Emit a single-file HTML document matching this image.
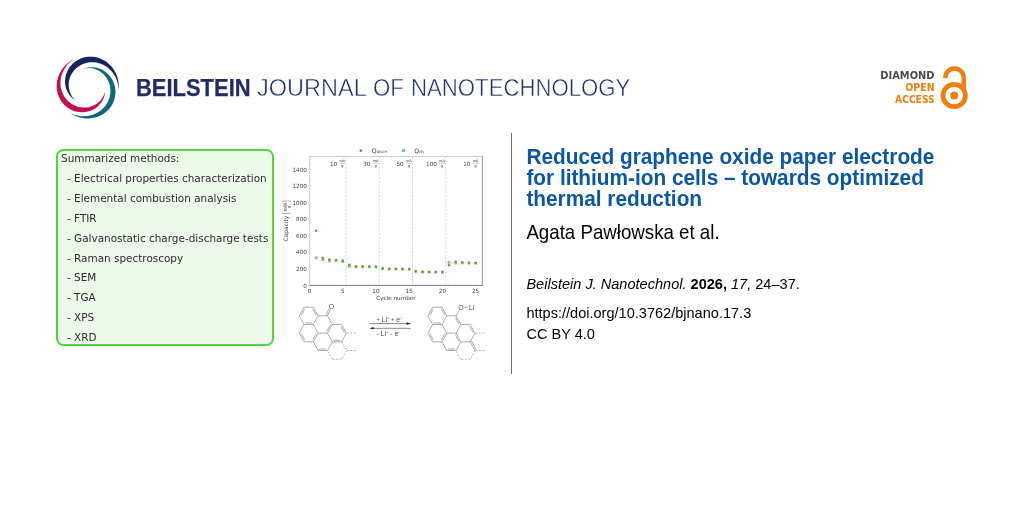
<!DOCTYPE html>
<html lang="en"><head><meta charset="utf-8"><title>Beilstein Journal of Nanotechnology</title>
<style>
html,body{margin:0;padding:0;background:#fff;}
body{width:1024px;height:512px;position:relative;overflow:hidden;font-family:"Liberation Sans",sans-serif;color:#000;}
.abs{position:absolute;white-space:nowrap;}
.hd{font-size:24.3px;line-height:30px;color:#1f2c66;transform-origin:0 50%;}
#h1{left:135.7px;top:72.6px;font-weight:700;transform:scaleX(0.903);-webkit-text-stroke:0.25px #1f2c66;}
.h2{top:72.6px;-webkit-text-stroke:0.5px #fff;}
.oa{font-family:"DejaVu Sans","Liberation Sans",sans-serif;font-weight:700;font-size:9.9px;line-height:12px;text-align:right;right:89.5px;transform-origin:100% 50%;}
#box{left:56.2px;top:149.2px;width:213.6px;height:193px;border:2px solid #56d53c;border-radius:7.5px;background:#ecfaea;}
.m{font-family:"DejaVu Sans","Liberation Sans",sans-serif;font-size:10.45px;line-height:14px;color:#2c2c2c;}
#vline{left:511px;top:133px;width:1px;height:241px;background:#6e6e6e;}
#title{left:526.4px;top:145.8px;font-size:20.81px;line-height:19.81px;font-weight:700;color:#0a57a5;transform:scaleY(1.055);transform-origin:0 0;white-space:normal;width:470px;}
#auth{left:526.4px;top:222px;font-size:18.71px;line-height:20px;transform:scaleY(1.055);transform-origin:0 0;}
.c{font-size:14.56px;line-height:16px;left:526.4px;transform:scaleY(1.055);transform-origin:0 0;}
svg text{font-family:"DejaVu Sans","Liberation Sans",sans-serif;fill:#404040;stroke:none;}
svg .tk{font-size:5.7px;}
svg .fr{font-size:3.5px;fill:#333;}
svg .at{font-family:"Liberation Sans",sans-serif;font-size:6.9px;fill:#4a4a4a;}
svg .rx{font-family:"Liberation Sans",sans-serif;font-size:6.9px;fill:#4a4a4a;}
</style></head><body>
<svg class="abs" style="left:0;top:0" width="1024" height="512" viewBox="0 0 1024 512">
<g id="logo">
<path d="M75.40,100.40 L73.52,99.12 L71.76,97.62 L70.16,95.92 L68.75,94.04 L67.55,92.00 L66.56,89.82 L65.81,87.53 L65.30,85.17 L65.04,82.76 L65.02,80.33 L65.26,77.91 L65.75,75.52 L66.47,73.19 L67.42,70.95 L68.58,68.81 L69.95,66.80 L71.50,64.94 L73.22,63.24 L75.08,61.72 L77.07,60.39 L79.17,59.25 L81.35,58.32 L83.60,57.59 L85.90,57.08 L88.22,56.77 L90.55,56.68 L92.86,56.78 L95.15,57.09 L97.40,57.59 L99.58,58.28 L101.70,59.14 L103.73,60.18 L105.67,61.37 L107.50,62.72 L109.22,64.21 L110.83,65.84 L112.30,67.59 L113.64,69.46 L114.84,71.44 L115.90,73.52 L116.80,75.69 L117.55,77.95 L118.14,80.29 L118.56,82.70 L118.80,85.18 L118.86,87.71 L118.75,90.30 L118.58,88.05 L118.30,85.87 L117.88,83.75 L117.32,81.70 L116.63,79.72 L115.81,77.82 L114.88,76.00 L113.83,74.27 L112.67,72.63 L111.40,71.09 L110.03,69.65 L108.57,68.32 L107.02,67.10 L105.38,66.01 L103.67,65.04 L101.89,64.20 L100.04,63.50 L98.14,62.95 L96.20,62.55 L94.23,62.30 L92.24,62.21 L90.24,62.29 L88.24,62.53 L86.26,62.94 L84.32,63.52 L82.42,64.26 L80.58,65.17 L78.83,66.24 L77.17,67.47 L75.61,68.84 L74.19,70.35 L72.90,71.99 L71.76,73.75 L70.78,75.61 L69.98,77.55 L69.37,79.56 L68.95,81.62 L68.72,83.71 L68.70,85.81 L68.88,87.89 L69.26,89.95 L69.84,91.94 L70.62,93.87 L71.57,95.69 L72.71,97.39 L74.00,98.96Z" fill="#16235f"/>
<path d="M82.00,69.25 L84.10,68.40 L86.30,67.75 L88.57,67.32 L90.89,67.14 L93.23,67.20 L95.56,67.50 L97.86,68.04 L100.10,68.81 L102.26,69.80 L104.31,71.01 L106.23,72.41 L108.01,73.99 L109.63,75.74 L111.06,77.63 L112.31,79.64 L113.36,81.76 L114.21,83.97 L114.84,86.23 L115.25,88.54 L115.46,90.87 L115.45,93.20 L115.23,95.50 L114.80,97.77 L114.18,99.99 L113.37,102.13 L112.38,104.18 L111.21,106.14 L109.89,107.98 L108.43,109.69 L106.82,111.28 L105.10,112.72 L103.26,114.01 L101.33,115.14 L99.31,116.12 L97.22,116.93 L95.06,117.58 L92.85,118.05 L90.61,118.36 L88.33,118.49 L86.04,118.44 L83.73,118.22 L81.43,117.82 L79.14,117.23 L76.87,116.47 L74.64,115.53 L72.44,114.40 L70.30,113.10 L72.34,113.98 L74.40,114.70 L76.46,115.28 L78.54,115.71 L80.60,115.99 L82.66,116.13 L84.71,116.12 L86.73,115.98 L88.72,115.70 L90.68,115.28 L92.60,114.72 L94.46,114.03 L96.27,113.21 L98.01,112.25 L99.67,111.17 L101.25,109.97 L102.74,108.64 L104.12,107.21 L105.39,105.66 L106.53,104.01 L107.55,102.28 L108.42,100.45 L109.14,98.56 L109.71,96.60 L110.11,94.59 L110.34,92.55 L110.40,90.49 L110.27,88.43 L109.97,86.37 L109.49,84.35 L108.82,82.37 L107.98,80.45 L106.97,78.62 L105.79,76.88 L104.46,75.26 L102.98,73.77 L101.38,72.43 L99.65,71.25 L97.82,70.24 L95.91,69.41 L93.94,68.78 L91.93,68.34 L89.89,68.12 L87.86,68.10 L85.85,68.28 L83.89,68.67Z" fill="#0d6a79"/>
<path d="M105.10,91.00 L104.93,93.20 L104.52,95.40 L103.87,97.57 L102.97,99.66 L101.84,101.67 L100.49,103.56 L98.95,105.31 L97.22,106.89 L95.33,108.30 L93.30,109.50 L91.15,110.50 L88.91,111.28 L86.61,111.84 L84.26,112.16 L81.89,112.26 L79.53,112.12 L77.20,111.77 L74.91,111.19 L72.70,110.40 L70.58,109.42 L68.57,108.24 L66.68,106.90 L64.92,105.39 L63.32,103.74 L61.87,101.96 L60.59,100.07 L59.49,98.08 L58.56,96.02 L57.82,93.89 L57.26,91.71 L56.88,89.50 L56.69,87.27 L56.68,85.03 L56.85,82.80 L57.19,80.59 L57.71,78.41 L58.40,76.27 L59.25,74.18 L60.26,72.15 L61.44,70.19 L62.77,68.31 L64.25,66.51 L65.87,64.81 L67.65,63.20 L69.56,61.72 L71.61,60.35 L73.80,59.10 L72.01,60.41 L70.34,61.80 L68.79,63.26 L67.37,64.81 L66.07,66.44 L64.91,68.13 L63.87,69.88 L62.97,71.68 L62.20,73.52 L61.57,75.41 L61.08,77.33 L60.73,79.27 L60.52,81.23 L60.46,83.19 L60.55,85.16 L60.79,87.11 L61.17,89.04 L61.71,90.94 L62.40,92.80 L63.23,94.60 L64.21,96.33 L65.33,97.98 L66.59,99.54 L67.97,101.00 L69.48,102.34 L71.11,103.55 L72.83,104.62 L74.65,105.54 L76.55,106.30 L78.52,106.90 L80.53,107.32 L82.58,107.55 L84.65,107.60 L86.71,107.46 L88.75,107.13 L90.76,106.62 L92.70,105.92 L94.57,105.04 L96.34,103.98 L97.99,102.77 L99.51,101.41 L100.89,99.91 L102.10,98.29 L103.13,96.57 L103.98,94.76 L104.63,92.90Z" fill="#c30f4f"/>
</g>
<g id="lock" fill="none" stroke="#f07e0c">
<circle cx="954.2" cy="95.5" r="11.2" stroke-width="4.8"/>
<circle cx="954.2" cy="95.5" r="4" fill="#f07e0c" stroke="none"/>
<path d="M945.4,78.3 V77.6 A9.15,9.15 0 0 1 963.7,77.6 V88" stroke-width="4.5"/>
</g>
</svg>
<div id="h1" class="abs hd">BEILSTEIN</div><div class="abs hd h2" style="left:257.3px;transform:scaleX(0.968)">JOURNAL</div><div class="abs hd h2" style="left:372.9px;transform:scaleX(0.914)">OF</div><div class="abs hd h2" style="left:410.5px;transform:scaleX(0.913)">NANOTECHNOLOGY</div>
<div class="abs oa" style="top:69.9px;color:#4a4a4a;">DIAMOND</div>
<div class="abs oa" style="top:81.7px;color:#f07e0c;transform:scaleX(0.96)">OPEN</div>
<div class="abs oa" style="top:94.1px;color:#f07e0c;transform:scaleX(0.928)">ACCESS</div>

<div id="box" class="abs"></div>
<div class="abs m" style="left:61.1px;top:150.5px;">Summarized methods:</div>
<div class="abs m" style="left:67px;top:171.3px;">- Electrical properties characterization</div>
<div class="abs m" style="left:67px;top:191.1px;">- Elemental combustion analysis</div>
<div class="abs m" style="left:67px;top:210.9px;">- FTIR</div>
<div class="abs m" style="left:67px;top:230.7px;">- Galvanostatic charge-discharge tests</div>
<div class="abs m" style="left:67px;top:250.5px;">- Raman spectroscopy</div>
<div class="abs m" style="left:67px;top:270.3px;">- SEM</div>
<div class="abs m" style="left:67px;top:290.1px;">- TGA</div>
<div class="abs m" style="left:67px;top:309.9px;">- XPS</div>
<div class="abs m" style="left:67px;top:329.7px;">- XRD</div>

<svg class="abs" style="left:0;top:0" width="1024" height="512" viewBox="0 0 1024 512">
<g id="chart">
<rect x="309.80" y="156.40" width="172.60" height="129.00" fill="#fff" stroke="#c2c2c2" stroke-width="0.85"/>
<line x1="309.20" y1="285.40" x2="482.70" y2="285.40" stroke="#606060" stroke-width="0.7"/>
<line x1="482.40" y1="156.10" x2="482.40" y2="285.70" stroke="#8a8a8a" stroke-width="0.7"/>
<line x1="346.05" y1="156.4" x2="346.05" y2="285.4" stroke="#bcbcbc" stroke-width="0.65" stroke-dasharray="2,1.5"/>
<line x1="379.27" y1="156.4" x2="379.27" y2="285.4" stroke="#bcbcbc" stroke-width="0.65" stroke-dasharray="2,1.5"/>
<line x1="412.50" y1="156.4" x2="412.50" y2="285.4" stroke="#bcbcbc" stroke-width="0.65" stroke-dasharray="2,1.5"/>
<line x1="445.72" y1="156.4" x2="445.72" y2="285.4" stroke="#bcbcbc" stroke-width="0.65" stroke-dasharray="2,1.5"/>
<line x1="308.00" y1="285.40" x2="309.50" y2="285.40" stroke="#bdbdbd" stroke-width="0.6"/>
<text x="306.90" y="287.50" text-anchor="end" class="tk">0</text>
<line x1="308.00" y1="268.85" x2="309.50" y2="268.85" stroke="#bdbdbd" stroke-width="0.6"/>
<text x="306.90" y="270.95" text-anchor="end" class="tk">200</text>
<line x1="308.00" y1="252.30" x2="309.50" y2="252.30" stroke="#bdbdbd" stroke-width="0.6"/>
<text x="306.90" y="254.40" text-anchor="end" class="tk">400</text>
<line x1="308.00" y1="235.75" x2="309.50" y2="235.75" stroke="#bdbdbd" stroke-width="0.6"/>
<text x="306.90" y="237.85" text-anchor="end" class="tk">600</text>
<line x1="308.00" y1="219.20" x2="309.50" y2="219.20" stroke="#bdbdbd" stroke-width="0.6"/>
<text x="306.90" y="221.30" text-anchor="end" class="tk">800</text>
<line x1="308.00" y1="202.65" x2="309.50" y2="202.65" stroke="#bdbdbd" stroke-width="0.6"/>
<text x="306.90" y="204.75" text-anchor="end" class="tk">1000</text>
<line x1="308.00" y1="186.10" x2="309.50" y2="186.10" stroke="#bdbdbd" stroke-width="0.6"/>
<text x="306.90" y="188.20" text-anchor="end" class="tk">1200</text>
<line x1="308.00" y1="169.55" x2="309.50" y2="169.55" stroke="#bdbdbd" stroke-width="0.6"/>
<text x="306.90" y="171.65" text-anchor="end" class="tk">1400</text>
<line x1="308.60" y1="285.40" x2="309.50" y2="285.40" stroke="#bdbdbd" stroke-width="0.4"/>
<line x1="308.60" y1="281.26" x2="309.50" y2="281.26" stroke="#bdbdbd" stroke-width="0.4"/>
<line x1="308.60" y1="277.12" x2="309.50" y2="277.12" stroke="#bdbdbd" stroke-width="0.4"/>
<line x1="308.60" y1="272.99" x2="309.50" y2="272.99" stroke="#bdbdbd" stroke-width="0.4"/>
<line x1="308.60" y1="268.85" x2="309.50" y2="268.85" stroke="#bdbdbd" stroke-width="0.4"/>
<line x1="308.60" y1="264.71" x2="309.50" y2="264.71" stroke="#bdbdbd" stroke-width="0.4"/>
<line x1="308.60" y1="260.57" x2="309.50" y2="260.57" stroke="#bdbdbd" stroke-width="0.4"/>
<line x1="308.60" y1="256.44" x2="309.50" y2="256.44" stroke="#bdbdbd" stroke-width="0.4"/>
<line x1="308.60" y1="252.30" x2="309.50" y2="252.30" stroke="#bdbdbd" stroke-width="0.4"/>
<line x1="308.60" y1="248.16" x2="309.50" y2="248.16" stroke="#bdbdbd" stroke-width="0.4"/>
<line x1="308.60" y1="244.02" x2="309.50" y2="244.02" stroke="#bdbdbd" stroke-width="0.4"/>
<line x1="308.60" y1="239.89" x2="309.50" y2="239.89" stroke="#bdbdbd" stroke-width="0.4"/>
<line x1="308.60" y1="235.75" x2="309.50" y2="235.75" stroke="#bdbdbd" stroke-width="0.4"/>
<line x1="308.60" y1="231.61" x2="309.50" y2="231.61" stroke="#bdbdbd" stroke-width="0.4"/>
<line x1="308.60" y1="227.47" x2="309.50" y2="227.47" stroke="#bdbdbd" stroke-width="0.4"/>
<line x1="308.60" y1="223.34" x2="309.50" y2="223.34" stroke="#bdbdbd" stroke-width="0.4"/>
<line x1="308.60" y1="219.20" x2="309.50" y2="219.20" stroke="#bdbdbd" stroke-width="0.4"/>
<line x1="308.60" y1="215.06" x2="309.50" y2="215.06" stroke="#bdbdbd" stroke-width="0.4"/>
<line x1="308.60" y1="210.92" x2="309.50" y2="210.92" stroke="#bdbdbd" stroke-width="0.4"/>
<line x1="308.60" y1="206.79" x2="309.50" y2="206.79" stroke="#bdbdbd" stroke-width="0.4"/>
<line x1="308.60" y1="202.65" x2="309.50" y2="202.65" stroke="#bdbdbd" stroke-width="0.4"/>
<line x1="308.60" y1="198.51" x2="309.50" y2="198.51" stroke="#bdbdbd" stroke-width="0.4"/>
<line x1="308.60" y1="194.37" x2="309.50" y2="194.37" stroke="#bdbdbd" stroke-width="0.4"/>
<line x1="308.60" y1="190.24" x2="309.50" y2="190.24" stroke="#bdbdbd" stroke-width="0.4"/>
<line x1="308.60" y1="186.10" x2="309.50" y2="186.10" stroke="#bdbdbd" stroke-width="0.4"/>
<line x1="308.60" y1="181.96" x2="309.50" y2="181.96" stroke="#bdbdbd" stroke-width="0.4"/>
<line x1="308.60" y1="177.82" x2="309.50" y2="177.82" stroke="#bdbdbd" stroke-width="0.4"/>
<line x1="308.60" y1="173.69" x2="309.50" y2="173.69" stroke="#bdbdbd" stroke-width="0.4"/>
<line x1="308.60" y1="169.55" x2="309.50" y2="169.55" stroke="#bdbdbd" stroke-width="0.4"/>
<line x1="308.60" y1="165.41" x2="309.50" y2="165.41" stroke="#bdbdbd" stroke-width="0.4"/>
<line x1="308.60" y1="161.27" x2="309.50" y2="161.27" stroke="#bdbdbd" stroke-width="0.4"/>
<line x1="316.14" y1="284.9" x2="316.14" y2="286.0" stroke="#666" stroke-width="0.5"/>
<line x1="322.79" y1="284.9" x2="322.79" y2="286.0" stroke="#666" stroke-width="0.5"/>
<line x1="329.44" y1="284.9" x2="329.44" y2="286.0" stroke="#666" stroke-width="0.5"/>
<line x1="336.08" y1="284.9" x2="336.08" y2="286.0" stroke="#666" stroke-width="0.5"/>
<line x1="342.73" y1="284.9" x2="342.73" y2="286.0" stroke="#666" stroke-width="0.5"/>
<line x1="349.37" y1="284.9" x2="349.37" y2="286.0" stroke="#666" stroke-width="0.5"/>
<line x1="356.01" y1="284.9" x2="356.01" y2="286.0" stroke="#666" stroke-width="0.5"/>
<line x1="362.66" y1="284.9" x2="362.66" y2="286.0" stroke="#666" stroke-width="0.5"/>
<line x1="369.31" y1="284.9" x2="369.31" y2="286.0" stroke="#666" stroke-width="0.5"/>
<line x1="375.95" y1="284.9" x2="375.95" y2="286.0" stroke="#666" stroke-width="0.5"/>
<line x1="382.60" y1="284.9" x2="382.60" y2="286.0" stroke="#666" stroke-width="0.5"/>
<line x1="389.24" y1="284.9" x2="389.24" y2="286.0" stroke="#666" stroke-width="0.5"/>
<line x1="395.88" y1="284.9" x2="395.88" y2="286.0" stroke="#666" stroke-width="0.5"/>
<line x1="402.53" y1="284.9" x2="402.53" y2="286.0" stroke="#666" stroke-width="0.5"/>
<line x1="409.18" y1="284.9" x2="409.18" y2="286.0" stroke="#666" stroke-width="0.5"/>
<line x1="415.82" y1="284.9" x2="415.82" y2="286.0" stroke="#666" stroke-width="0.5"/>
<line x1="422.46" y1="284.9" x2="422.46" y2="286.0" stroke="#666" stroke-width="0.5"/>
<line x1="429.11" y1="284.9" x2="429.11" y2="286.0" stroke="#666" stroke-width="0.5"/>
<line x1="435.75" y1="284.9" x2="435.75" y2="286.0" stroke="#666" stroke-width="0.5"/>
<line x1="442.40" y1="284.9" x2="442.40" y2="286.0" stroke="#666" stroke-width="0.5"/>
<line x1="449.04" y1="284.9" x2="449.04" y2="286.0" stroke="#666" stroke-width="0.5"/>
<line x1="455.69" y1="284.9" x2="455.69" y2="286.0" stroke="#666" stroke-width="0.5"/>
<line x1="462.33" y1="284.9" x2="462.33" y2="286.0" stroke="#666" stroke-width="0.5"/>
<line x1="468.98" y1="284.9" x2="468.98" y2="286.0" stroke="#666" stroke-width="0.5"/>
<line x1="475.62" y1="284.9" x2="475.62" y2="286.0" stroke="#666" stroke-width="0.5"/>
<line x1="309.50" y1="285.4" x2="309.50" y2="286.9" stroke="#bdbdbd" stroke-width="0.6"/>
<text x="309.50" y="292.90" text-anchor="middle" class="tk">0</text>
<line x1="342.73" y1="285.4" x2="342.73" y2="286.9" stroke="#bdbdbd" stroke-width="0.6"/>
<text x="342.73" y="292.90" text-anchor="middle" class="tk">5</text>
<line x1="375.95" y1="285.4" x2="375.95" y2="286.9" stroke="#bdbdbd" stroke-width="0.6"/>
<text x="375.95" y="292.90" text-anchor="middle" class="tk">10</text>
<line x1="409.18" y1="285.4" x2="409.18" y2="286.9" stroke="#bdbdbd" stroke-width="0.6"/>
<text x="409.18" y="292.90" text-anchor="middle" class="tk">15</text>
<line x1="442.40" y1="285.4" x2="442.40" y2="286.9" stroke="#bdbdbd" stroke-width="0.6"/>
<text x="442.40" y="292.90" text-anchor="middle" class="tk">20</text>
<line x1="475.62" y1="285.4" x2="475.62" y2="286.9" stroke="#bdbdbd" stroke-width="0.6"/>
<text x="475.62" y="292.90" text-anchor="middle" class="tk">25</text>
<text x="395.95" y="300.2" text-anchor="middle" class="tk">Cycle number</text>
<g transform="translate(288.1,241.4) rotate(-90)"><text x="0" y="0" class="tk" style="font-size:5.9px">Capacity</text><path d="M28.9,-5.9 h-1 v8.0 h1 M39.4,-5.9 h1 v8.0 h-1" fill="none" stroke="#555" stroke-width="0.45"/><text x="34.15" y="-2.5" text-anchor="middle" class="fr">mAh</text><line x1="29.6" y1="-1.7" x2="38.7" y2="-1.7" stroke="#444" stroke-width="0.4"/><text x="34.15" y="1.4" text-anchor="middle" class="fr">g</text></g>
<text x="337.25" y="165.5" text-anchor="end" class="tk">10</text><text x="342.35" y="162.3" text-anchor="middle" class="fr">mA</text><line x1="339.35" y1="163.2" x2="345.35" y2="163.2" stroke="#555" stroke-width="0.35"/><text x="342.35" y="166.8" text-anchor="middle" class="fr">g</text>
<text x="370.47" y="165.5" text-anchor="end" class="tk">30</text><text x="375.57" y="162.3" text-anchor="middle" class="fr">mA</text><line x1="372.57" y1="163.2" x2="378.57" y2="163.2" stroke="#555" stroke-width="0.35"/><text x="375.57" y="166.8" text-anchor="middle" class="fr">g</text>
<text x="403.70" y="165.5" text-anchor="end" class="tk">50</text><text x="408.80" y="162.3" text-anchor="middle" class="fr">mA</text><line x1="405.80" y1="163.2" x2="411.80" y2="163.2" stroke="#555" stroke-width="0.35"/><text x="408.80" y="166.8" text-anchor="middle" class="fr">g</text>
<text x="436.92" y="165.5" text-anchor="end" class="tk">100</text><text x="442.02" y="162.3" text-anchor="middle" class="fr">mA</text><line x1="439.02" y1="163.2" x2="445.02" y2="163.2" stroke="#555" stroke-width="0.35"/><text x="442.02" y="166.8" text-anchor="middle" class="fr">g</text>
<text x="470.48" y="165.5" text-anchor="end" class="tk">10</text><text x="475.58" y="162.3" text-anchor="middle" class="fr">mA</text><line x1="472.58" y1="163.2" x2="478.58" y2="163.2" stroke="#555" stroke-width="0.35"/><text x="475.58" y="166.8" text-anchor="middle" class="fr">g</text>
<circle cx="360.9" cy="150.7" r="1.35" fill="#ee2a45" fill-opacity="0.8"/><text x="371.8" y="152.9" class="tk" style="font-size:6.2px">Q<tspan dy="0.5" font-size="3.9">disch</tspan></text>
<rect x="401.9" y="149.1" width="3.0" height="3.0" fill="#24be20" fill-opacity="0.68"/><text x="414.2" y="152.9" class="tk" style="font-size:6.2px">Q<tspan dy="0.5" font-size="3.9">ch</tspan></text>
<circle cx="316.14" cy="230.70" r="1.2" fill="#ee2a45" fill-opacity="0.85"/><circle cx="322.79" cy="258.01" r="1.2" fill="#ee2a45" fill-opacity="0.85"/><circle cx="329.44" cy="259.42" r="1.2" fill="#ee2a45" fill-opacity="0.85"/><circle cx="336.08" cy="259.83" r="1.2" fill="#ee2a45" fill-opacity="0.85"/><circle cx="342.73" cy="260.49" r="1.2" fill="#ee2a45" fill-opacity="0.85"/><circle cx="349.37" cy="264.63" r="1.2" fill="#ee2a45" fill-opacity="0.85"/><circle cx="356.01" cy="266.37" r="1.2" fill="#ee2a45" fill-opacity="0.85"/><circle cx="362.66" cy="266.53" r="1.2" fill="#ee2a45" fill-opacity="0.85"/><circle cx="369.31" cy="266.62" r="1.2" fill="#ee2a45" fill-opacity="0.85"/><circle cx="375.95" cy="266.78" r="1.2" fill="#ee2a45" fill-opacity="0.85"/><circle cx="382.60" cy="268.11" r="1.2" fill="#ee2a45" fill-opacity="0.85"/><circle cx="389.24" cy="268.85" r="1.2" fill="#ee2a45" fill-opacity="0.85"/><circle cx="395.88" cy="268.93" r="1.2" fill="#ee2a45" fill-opacity="0.85"/><circle cx="402.53" cy="269.02" r="1.2" fill="#ee2a45" fill-opacity="0.85"/><circle cx="409.18" cy="269.02" r="1.2" fill="#ee2a45" fill-opacity="0.85"/><circle cx="415.82" cy="271.08" r="1.2" fill="#ee2a45" fill-opacity="0.85"/><circle cx="422.46" cy="271.75" r="1.2" fill="#ee2a45" fill-opacity="0.85"/><circle cx="429.11" cy="271.91" r="1.2" fill="#ee2a45" fill-opacity="0.85"/><circle cx="435.75" cy="271.99" r="1.2" fill="#ee2a45" fill-opacity="0.85"/><circle cx="442.40" cy="271.99" r="1.2" fill="#ee2a45" fill-opacity="0.85"/><circle cx="449.04" cy="265.13" r="1.2" fill="#ee2a45" fill-opacity="0.85"/><circle cx="455.69" cy="261.65" r="1.2" fill="#ee2a45" fill-opacity="0.85"/><circle cx="462.33" cy="262.40" r="1.2" fill="#ee2a45" fill-opacity="0.85"/><circle cx="468.98" cy="262.64" r="1.2" fill="#ee2a45" fill-opacity="0.85"/><circle cx="475.62" cy="262.89" r="1.2" fill="#ee2a45" fill-opacity="0.85"/>
<rect x="314.79" y="256.41" width="2.7" height="2.7" fill="#24be20" fill-opacity="0.68"/><rect x="321.44" y="258.31" width="2.7" height="2.7" fill="#24be20" fill-opacity="0.68"/><rect x="328.08" y="259.56" width="2.7" height="2.7" fill="#24be20" fill-opacity="0.68"/><rect x="334.73" y="259.39" width="2.7" height="2.7" fill="#24be20" fill-opacity="0.68"/><rect x="341.38" y="260.30" width="2.7" height="2.7" fill="#24be20" fill-opacity="0.68"/><rect x="348.02" y="264.93" width="2.7" height="2.7" fill="#24be20" fill-opacity="0.68"/><rect x="354.66" y="265.35" width="2.7" height="2.7" fill="#24be20" fill-opacity="0.68"/><rect x="361.31" y="265.43" width="2.7" height="2.7" fill="#24be20" fill-opacity="0.68"/><rect x="367.95" y="265.43" width="2.7" height="2.7" fill="#24be20" fill-opacity="0.68"/><rect x="374.60" y="265.60" width="2.7" height="2.7" fill="#24be20" fill-opacity="0.68"/><rect x="381.25" y="267.50" width="2.7" height="2.7" fill="#24be20" fill-opacity="0.68"/><rect x="387.89" y="267.67" width="2.7" height="2.7" fill="#24be20" fill-opacity="0.68"/><rect x="394.53" y="267.75" width="2.7" height="2.7" fill="#24be20" fill-opacity="0.68"/><rect x="401.18" y="267.83" width="2.7" height="2.7" fill="#24be20" fill-opacity="0.68"/><rect x="407.82" y="267.83" width="2.7" height="2.7" fill="#24be20" fill-opacity="0.68"/><rect x="414.47" y="270.40" width="2.7" height="2.7" fill="#24be20" fill-opacity="0.68"/><rect x="421.11" y="270.64" width="2.7" height="2.7" fill="#24be20" fill-opacity="0.68"/><rect x="427.76" y="270.73" width="2.7" height="2.7" fill="#24be20" fill-opacity="0.68"/><rect x="434.40" y="270.81" width="2.7" height="2.7" fill="#24be20" fill-opacity="0.68"/><rect x="441.05" y="270.81" width="2.7" height="2.7" fill="#24be20" fill-opacity="0.68"/><rect x="447.69" y="261.05" width="2.7" height="2.7" fill="#24be20" fill-opacity="0.68"/><rect x="454.34" y="261.71" width="2.7" height="2.7" fill="#24be20" fill-opacity="0.68"/><rect x="460.98" y="261.62" width="2.7" height="2.7" fill="#24be20" fill-opacity="0.68"/><rect x="467.63" y="261.71" width="2.7" height="2.7" fill="#24be20" fill-opacity="0.68"/><rect x="474.27" y="261.87" width="2.7" height="2.7" fill="#24be20" fill-opacity="0.68"/>
</g>
<g id="chem">
<g stroke="#666" stroke-width="0.55" fill="none"><line x1="303.99" y1="307.12" x2="313.41" y2="307.12"/><line x1="313.41" y1="307.12" x2="318.12" y2="315.80"/><line x1="318.12" y1="315.80" x2="313.41" y2="324.48"/><line x1="313.41" y1="324.48" x2="303.99" y2="324.48"/><line x1="303.99" y1="324.48" x2="299.28" y2="315.80"/><line x1="299.28" y1="315.80" x2="303.99" y2="307.12"/><line x1="313.41" y1="324.48" x2="318.12" y2="333.16"/><line x1="318.12" y1="333.16" x2="313.41" y2="341.84"/><line x1="313.41" y1="341.84" x2="303.99" y2="341.84"/><line x1="303.99" y1="341.84" x2="299.28" y2="333.16"/><line x1="299.28" y1="333.16" x2="303.99" y2="324.48"/><line x1="318.12" y1="315.80" x2="327.54" y2="315.80"/><line x1="327.54" y1="315.80" x2="332.25" y2="324.48"/><line x1="332.25" y1="324.48" x2="327.54" y2="333.16"/><line x1="327.54" y1="333.16" x2="318.12" y2="333.16"/><line x1="332.25" y1="324.48" x2="341.67" y2="324.48"/><line x1="341.67" y1="324.48" x2="346.38" y2="333.16"/><line x1="346.38" y1="333.16" x2="341.67" y2="341.84"/><line x1="341.67" y1="341.84" x2="332.25" y2="341.84"/><line x1="332.25" y1="341.84" x2="327.54" y2="333.16"/><line x1="332.25" y1="341.84" x2="327.54" y2="350.52"/><line x1="327.54" y1="350.52" x2="318.12" y2="350.52"/><line x1="318.12" y1="350.52" x2="313.41" y2="341.84"/><line x1="341.67" y1="341.84" x2="346.38" y2="350.52" stroke-dasharray="1.9,1.6" stroke="#6e6e6e"/><line x1="346.38" y1="350.52" x2="341.67" y2="359.20" stroke-dasharray="1.9,1.6" stroke="#6e6e6e"/><line x1="341.67" y1="359.20" x2="332.25" y2="359.20" stroke-dasharray="1.9,1.6" stroke="#6e6e6e"/><line x1="332.25" y1="359.20" x2="327.54" y2="350.52" stroke-dasharray="1.9,1.6" stroke="#6e6e6e"/><line x1="346.88" y1="333.16" x2="355.88" y2="333.16" stroke-dasharray="1.9,1.6" stroke="#6e6e6e"/><line x1="346.88" y1="350.52" x2="355.88" y2="350.52" stroke-dasharray="1.9,1.6" stroke="#6e6e6e"/><line x1="301.22" y1="315.37" x2="304.61" y2="309.12"/><line x1="312.79" y1="309.12" x2="316.18" y2="315.37"/><line x1="312.09" y1="322.98" x2="305.31" y2="322.98"/><line x1="304.61" y1="339.84" x2="301.22" y2="333.59"/><line x1="316.18" y1="333.59" x2="312.79" y2="339.84"/><line x1="341.05" y1="326.48" x2="344.44" y2="332.73"/><line x1="326.22" y1="349.02" x2="319.44" y2="349.02"/><line x1="330.31" y1="324.91" x2="326.92" y2="331.16"/><line x1="340.35" y1="340.34" x2="333.57" y2="340.34"/><line x1="327.54" y1="315.80" x2="330.44" y2="309.10"/><line x1="326.14" y1="315.20" x2="329.04" y2="308.50"/><text x="331.34" y="309.20" text-anchor="middle" class="at">O</text></g>
<g stroke="#666" stroke-width="0.55" fill="none"><line x1="432.59" y1="307.12" x2="442.01" y2="307.12"/><line x1="442.01" y1="307.12" x2="446.72" y2="315.80"/><line x1="446.72" y1="315.80" x2="442.01" y2="324.48"/><line x1="442.01" y1="324.48" x2="432.59" y2="324.48"/><line x1="432.59" y1="324.48" x2="427.88" y2="315.80"/><line x1="427.88" y1="315.80" x2="432.59" y2="307.12"/><line x1="442.01" y1="324.48" x2="446.72" y2="333.16"/><line x1="446.72" y1="333.16" x2="442.01" y2="341.84"/><line x1="442.01" y1="341.84" x2="432.59" y2="341.84"/><line x1="432.59" y1="341.84" x2="427.88" y2="333.16"/><line x1="427.88" y1="333.16" x2="432.59" y2="324.48"/><line x1="446.72" y1="315.80" x2="456.14" y2="315.80"/><line x1="456.14" y1="315.80" x2="460.85" y2="324.48"/><line x1="460.85" y1="324.48" x2="456.14" y2="333.16"/><line x1="456.14" y1="333.16" x2="446.72" y2="333.16"/><line x1="460.85" y1="324.48" x2="470.27" y2="324.48"/><line x1="470.27" y1="324.48" x2="474.98" y2="333.16"/><line x1="474.98" y1="333.16" x2="470.27" y2="341.84"/><line x1="470.27" y1="341.84" x2="460.85" y2="341.84"/><line x1="460.85" y1="341.84" x2="456.14" y2="333.16"/><line x1="460.85" y1="341.84" x2="456.14" y2="350.52"/><line x1="456.14" y1="350.52" x2="446.72" y2="350.52"/><line x1="446.72" y1="350.52" x2="442.01" y2="341.84"/><line x1="470.27" y1="341.84" x2="474.98" y2="350.52"/><line x1="471.55" y1="341.05" x2="476.26" y2="349.73"/><line x1="474.98" y1="350.52" x2="470.27" y2="359.20" stroke-dasharray="1.9,1.6" stroke="#6e6e6e"/><line x1="470.27" y1="359.20" x2="460.85" y2="359.20" stroke-dasharray="1.9,1.6" stroke="#6e6e6e"/><line x1="460.85" y1="359.20" x2="456.14" y2="350.52" stroke-dasharray="1.9,1.6" stroke="#6e6e6e"/><line x1="475.48" y1="333.16" x2="484.48" y2="333.16" stroke-dasharray="1.9,1.6" stroke="#6e6e6e"/><line x1="475.48" y1="350.52" x2="484.48" y2="350.52" stroke-dasharray="1.9,1.6" stroke="#6e6e6e"/><line x1="429.82" y1="315.37" x2="433.21" y2="309.12"/><line x1="441.39" y1="309.12" x2="444.78" y2="315.37"/><line x1="440.69" y1="322.98" x2="433.91" y2="322.98"/><line x1="433.21" y1="339.84" x2="429.82" y2="333.59"/><line x1="444.78" y1="333.59" x2="441.39" y2="339.84"/><line x1="469.65" y1="326.48" x2="473.04" y2="332.73"/><line x1="454.82" y1="349.02" x2="448.04" y2="349.02"/><line x1="455.52" y1="317.80" x2="458.91" y2="324.05"/><line x1="455.52" y1="335.16" x2="458.91" y2="341.41"/><line x1="456.14" y1="315.80" x2="459.24" y2="310.20"/><text x="460.94" y="309.50" text-anchor="middle" class="at">O</text><line x1="464.14" y1="307.10" x2="467.94" y2="307.10"/><text x="468.94" y="309.50" class="at">Li</text></g>

<g stroke="#333" stroke-width="0.6" fill="#222">
<line x1="369.4" y1="323.6" x2="408" y2="323.6"/><path d="M410.8,323.6 l-4.2,-1.3 v2.6z" stroke="none"/>
<line x1="372.2" y1="328.3" x2="410.8" y2="328.3"/><path d="M369.4,328.3 l4.2,-1.3 v2.6z" stroke="none"/>
</g>
<text x="376.6" y="321.9" class="rx"><tspan font-size="5.6" dy="-0.9">+</tspan><tspan dy="0.9"> Li</tspan><tspan dy="-3" font-size="4">+</tspan><tspan dy="2.1" font-size="5.6"> +</tspan><tspan dy="0.9"> e</tspan><tspan dy="-3" font-size="4">-</tspan></text>
<text x="376.4" y="335.7" class="rx">- Li<tspan dy="-3" font-size="4">+</tspan><tspan dy="3"> - e</tspan><tspan dy="-3" font-size="4">-</tspan></text>
</g>
</svg>

<div id="vline" class="abs"></div>
<div id="title" class="abs">Reduced graphene oxide paper electrode<br>for lithium-ion cells – towards optimized<br>thermal reduction</div>
<div id="auth" class="abs">Agata Pawłowska et al.</div>
<div class="abs c" style="top:274.7px;"><i>Beilstein J. Nanotechnol.</i> <b>2026,</b> <i>17,</i> 24–37.</div>
<div class="abs c" style="top:304.4px;">https://doi.org/10.3762/bjnano.17.3</div>
<div class="abs c" style="top:325.3px;">CC BY 4.0</div>
</body></html>
